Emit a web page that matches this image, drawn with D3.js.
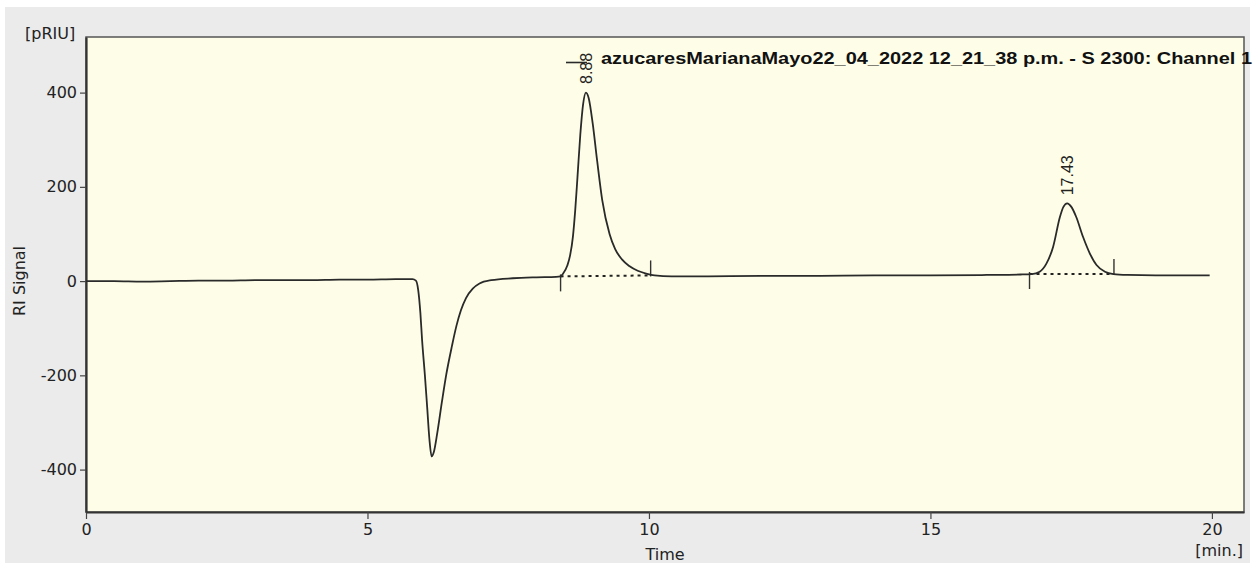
<!DOCTYPE html>
<html>
<head>
<meta charset="utf-8">
<script src="https://cdn.jsdelivr.net/npm/d3@7"></script>
<style>
  html, body { margin: 0; padding: 0; background: #fff; }
  svg { display: block; }
</style>
</head>
<body>
<div id="chart"></div>
<script>
// chromatogram trace (time in min, RI signal in pRIU)
const times = [
  0, 0.5, 1.0, 1.5, 2.0, 2.5, 3.0, 3.5, 4.0, 4.5, 5.0, 5.5, 5.8,
  5.86, 5.90, 5.94, 5.97, 6.02, 6.06, 6.10, 6.14, 6.18, 6.24, 6.32, 6.40,
  6.50, 6.58, 6.66, 6.75, 6.87, 6.99, 7.2, 7.58, 8.0, 8.35,
  8.43, 8.47, 8.55, 8.60, 8.65, 8.69, 8.73, 8.78, 8.83, 8.88, 8.93, 9.00,
  9.08, 9.17, 9.30, 9.40, 9.52, 9.65, 9.80, 9.95, 10.10, 10.4,
  11, 12, 13, 14, 15, 16, 16.6, 16.8,
  16.94, 17.06, 17.18, 17.30, 17.36, 17.43, 17.50, 17.59, 17.71, 17.83,
  17.95, 18.10, 18.25, 18.5, 19, 19.5, 19.96
];
const signal = [
  0, 0, -1, 0, 1, 1, 2, 2, 2, 3, 3, 4, 4,
  1, -18, -68, -125, -200, -267, -335, -372, -362, -322, -258, -198,
  -138, -95, -62, -36, -16, -5, 2, 6, 8, 9,
  10, 15, 33, 55, 95, 150, 220, 310, 375, 400, 388, 335,
  255, 172, 100, 68, 46, 32, 22, 16, 12, 10,
  10, 11, 11, 12, 12, 13, 14, 15,
  20, 37, 73, 136, 157, 165, 158, 136, 94, 59,
  34, 20, 15, 13, 12, 12, 12
];

// integrated peaks
const peakTimes = [8.88, 17.43];
const peakHeights = [400, 165];
const peakLabels = ["8.88", "17.43"];
const peakStart = [8.43, 16.76];
const peakStartVal = [10, 15];
const peakEnd = [10.03, 18.26];
const peakEndVal = [12, 15];

const xTicks = [0, 5, 10, 15, 20];
const yTicks = [-400, -200, 0, 200, 400];
const title = "azucaresMarianaMayo22_04_2022 12_21_38 p.m. - S 2300: Channel 1";

const width = 1254, height = 565;
const plot = { left: 86, top: 37, right: 1244, bottom: 512 };
const tickFont = "'DejaVu Sans', Verdana, sans-serif";

const svg = d3.select("#chart").append("svg")
  .attr("width", width)
  .attr("height", height);

// grey panel behind everything
svg.append("rect")
  .attr("x", 5).attr("y", 7)
  .attr("width", 1245).attr("height", 556)
  .attr("fill", "#ebebeb");

const x = d3.scaleLinear().domain([0, 20.57]).range([plot.left, plot.right]);
const y = d3.scaleLinear().domain([-490, 518]).range([plot.bottom, plot.top]);

// plot area
svg.append("rect")
  .attr("x", plot.left).attr("y", plot.top)
  .attr("width", plot.right - plot.left)
  .attr("height", plot.bottom - plot.top)
  .attr("fill", "#fefee8")
  .attr("stroke", "#555")
  .attr("stroke-width", 1.5);

// axes (plain hyphen for negatives, like the original software)
const xAxis = svg.append("g")
  .attr("transform", `translate(0,${plot.bottom})`)
  .call(d3.axisBottom(x).tickValues(xTicks).tickFormat(d => String(d))
    .tickSize(7).tickPadding(5).tickSizeOuter(0));
const yAxis = svg.append("g")
  .attr("transform", `translate(${plot.left},0)`)
  .call(d3.axisLeft(y).tickValues(yTicks).tickFormat(d => String(d))
    .tickSize(6).tickPadding(3).tickSizeOuter(0));

[xAxis, yAxis].forEach(g => {
  g.select(".domain").attr("stroke", "#333").attr("stroke-width", 2.2);
  g.selectAll(".tick line").attr("stroke", "#444").attr("stroke-width", 1.2);
  g.selectAll(".tick text")
    .attr("fill", "#222")
    .style("font-family", tickFont)
    .style("font-size", "16px");
});

// axis titles
svg.append("text")
  .attr("x", 25).attr("y", 39)
  .style("font-family", tickFont).style("font-size", "16px")
  .attr("fill", "#222")
  .text("[pRIU]");

svg.append("text")
  .attr("transform", "translate(25,281) rotate(-90)")
  .attr("text-anchor", "middle")
  .style("font-family", tickFont).style("font-size", "16px")
  .attr("fill", "#222")
  .text("RI Signal");

svg.append("text")
  .attr("x", 665).attr("y", 560)
  .attr("text-anchor", "middle")
  .style("font-family", tickFont).style("font-size", "16px")
  .attr("fill", "#222")
  .text("Time");

svg.append("text")
  .attr("x", 1243).attr("y", 556)
  .attr("text-anchor", "end")
  .style("font-family", tickFont).style("font-size", "16px")
  .attr("fill", "#222")
  .text("[min.]");

// baselines and integration marks
peakStart.forEach((s, i) => {
  svg.append("line")
    .attr("x1", x(s)).attr("y1", y(peakStartVal[i]))
    .attr("x2", x(peakEnd[i])).attr("y2", y(peakEndVal[i]))
    .attr("stroke", "#222")
    .attr("stroke-width", 2)
    .attr("stroke-dasharray", "3,4");
  svg.append("line")
    .attr("x1", x(s)).attr("x2", x(s))
    .attr("y1", y(peakStartVal[i]) - 2).attr("y2", y(peakStartVal[i]) + 15)
    .attr("stroke", "#333").attr("stroke-width", 1.4);
  svg.append("line")
    .attr("x1", x(peakEnd[i])).attr("x2", x(peakEnd[i]))
    .attr("y1", y(peakEndVal[i]) + 1).attr("y2", y(peakEndVal[i]) - 15)
    .attr("stroke", "#333").attr("stroke-width", 1.4);
});

// the trace
const points = times.map((t, i) => [t, signal[i]]);
const line = d3.line()
  .x(d => x(d[0]))
  .y(d => y(d[1]))
  .curve(d3.curveMonotoneX);

svg.append("path")
  .datum(points)
  .attr("fill", "none")
  .attr("stroke", "#2a2a2a")
  .attr("stroke-width", 1.8)
  .attr("d", line);

// legend sample and title
svg.append("line")
  .attr("x1", 566).attr("x2", 587)
  .attr("y1", 62.5).attr("y2", 62.5)
  .attr("stroke", "#2a2a2a").attr("stroke-width", 1.6);

svg.append("text")
  .attr("x", 601).attr("y", 64)
  .attr("textLength", 651)
  .attr("lengthAdjust", "spacingAndGlyphs")
  .style("font-family", "'Liberation Sans Narrow', 'Liberation Sans', Arial, sans-serif")
  .style("font-size", "16px")
  .style("font-weight", "bold")
  .attr("fill", "#111")
  .text(title);

// peak labels, rotated above each apex
peakTimes.forEach((t, i) => {
  const lx = x(t), ly = i === 0 ? 84 : y(peakHeights[i]) - 8;
  svg.append("text")
    .attr("transform", `translate(${lx},${ly}) rotate(-90)`)
    .attr("dy", "0.35em")
    .style("font-family", "'Liberation Sans', Arial, sans-serif")
    .style("font-size", "16px")
    .attr("fill", "#222")
    .text(peakLabels[i]);
});
</script>
</body>
</html>
